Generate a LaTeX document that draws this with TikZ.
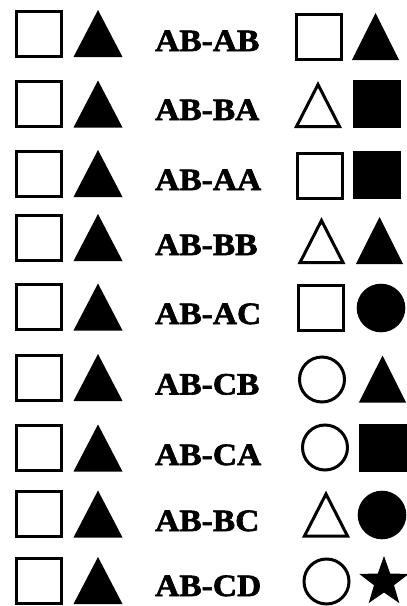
\documentclass[tikz,border=0pt]{standalone}
\usepackage{graphicx}
\usepackage{fontspec}
\setmainfont{Liberation Serif}
\newfontfamily\lblfont{Liberation Serif}[UprightFont={* Bold},UprightFeatures={FakeBold=2}]
\begin{document}
\begin{tikzpicture}[x=1pt,y=-1pt,
  outl/.style={draw=black,line width=3pt,line join=miter,fill=white},
  lbl/.style={anchor=base west,inner sep=0pt,font=\lblfont\fontsize{31}{31}\selectfont},
  pics/osq/.style={code={\draw[outl] (-22.5,-22.5) rectangle (22.5,22.5);}},
  pics/fsq/.style={code={\fill[black] (-24,-24) rectangle (24,24);}},
  pics/ftri/.style={code={\fill[black] (-24.5,23.5) -- (24.5,23.5) -- (0,-23.5) -- cycle;}},
  pics/otri/.style={code={\draw[outl] (-21.5,22) -- (21.5,22) -- (0,-20) -- cycle;}},
  pics/ocirc/.style={code={\draw[outl] (0,0) circle[radius=22.5];}},
  pics/fcirc/.style={code={\fill[black] (0,0) circle[radius=24.3];}},
  pics/fstar/.style={code={\fill[black] (-90:26) -- (-126:10.5) -- (-162:26) -- (-198:10.5) -- (-234:26) -- (-270:10.5) -- (-306:26) -- (-342:10.5) -- (-18:26) -- (-54:10.5) -- cycle;}}
]
\useasboundingbox (0,0) rectangle (407,606);
% left column: open square + filled triangle in every row
\foreach \cy in {33.5,104,173.5,237.5,307,377.5,448,514,580.5}{
  \pic at (39,\cy) {osq};
  \pic at (98,\cy) {ftri};
}
% labels
\node[lbl] (t1) at (155,51) {\scalebox{1.08}[1]{AB-AB}};
\node[lbl] (t2) at (155,120) {\scalebox{1.08}[1]{AB-BA}};
\node[lbl] (t3) at (155,190) {\scalebox{1.08}[1]{AB-AA}};
\node[lbl] (t4) at (155,255) {\scalebox{1.08}[1]{AB-BB}};
\node[lbl] (t5) at (155,324) {\scalebox{1.08}[1]{AB-AC}};
\node[lbl] (t6) at (155,394.5) {\scalebox{1.08}[1]{AB-CB}};
\node[lbl] (t7) at (155,465) {\scalebox{1.08}[1]{AB-CA}};
\node[lbl] (t8) at (155,531) {\scalebox{1.08}[1]{AB-BC}};
\node[lbl] (t9) at (155,596) {\scalebox{1.08}[1]{AB-CD}};
% right column
\pic at (318.5,36.5) {osq};   \pic[xscale=0.96] at (375.5,36.5) {ftri};
\pic at (318,104.5) {otri};   \pic at (377,103.5) {fsq};
\pic at (319.5,175.5) {osq};  \pic at (377,175) {fsq};
\pic at (321.5,240.5) {otri}; \pic[xscale=0.96] at (379.5,240.5) {ftri};
\pic at (321,307.5) {osq};    \pic at (381,308) {fcirc};
\pic at (322,379.5) {ocirc};  \pic[xscale=0.96] at (382.5,379) {ftri};
\pic at (325,447.5) {ocirc};  \pic at (383,447.5) {fsq};
\pic at (326,514) {otri};     \pic at (382,515) {fcirc};
\pic at (326.5,581.5) {ocirc}; \pic at (384,582) {fstar};
\end{tikzpicture}
\end{document}
